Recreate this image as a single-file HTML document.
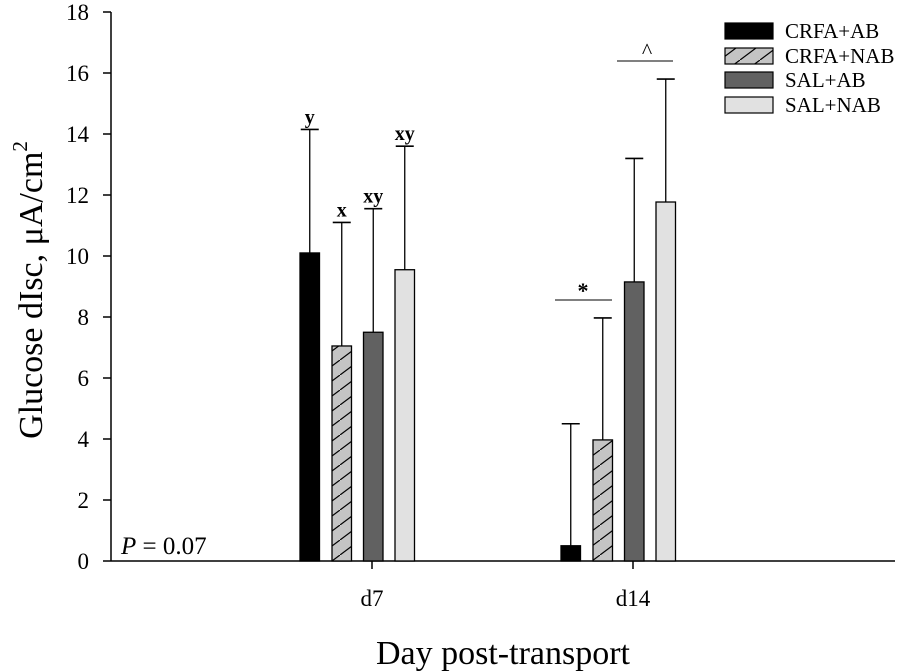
<!DOCTYPE html>
<html><head><meta charset="utf-8"><style>
body{margin:0;background:#fff}
svg{display:block;font-family:"Liberation Serif",serif}
</style></head><body>
<svg id="chart" width="901" height="672" viewBox="0 0 901 672">
<defs>
<pattern id="hatch" patternUnits="userSpaceOnUse" width="20" height="15">
<rect width="20" height="15" fill="#c4c4c4"/>
<path d="M-5,18.75 L25,-3.75" stroke="#000" stroke-width="1.2"/>
</pattern>
</defs>
<g id="plot"></g>
</svg>
<script>
const categories = ["d7", "d14"];
const seriesNames = ["CRFA+AB", "CRFA+NAB", "SAL+AB", "SAL+NAB"];
const crfaAB = [10.1, 0.5];
const crfaNAB = [7.05, 3.97];
const salAB = [7.5, 9.15];
const salNAB = [9.55, 11.77];
const errCrfaAB = [14.15, 4.5];
const errCrfaNAB = [11.1, 7.97];
const errSalAB = [11.55, 13.2];
const errSalNAB = [13.6, 15.8];
const d7Letters = ["y", "x", "xy", "xy"];
const yTicks = [0, 2, 4, 6, 8, 10, 12, 14, 16, 18];

const NS = "http://www.w3.org/2000/svg";
const g = document.getElementById("plot");
const X0 = 111, X1 = 895, Y0 = 561, Y18 = 12;
const yScale = v => Y0 - (v / 18) * (Y0 - Y18);
const catCenter = [372, 633];
const barOffsets = [-72, -40, -8.5, 23];
const barW = 19.5;
const fills = ["#000", "url(#hatch)", "#616161", "#e1e1e1"];
const series = [crfaAB, crfaNAB, salAB, salNAB];
const errs = [errCrfaAB, errCrfaNAB, errSalAB, errSalNAB];

function el(tag, attrs, text) {
  const e = document.createElementNS(NS, tag);
  for (const k in attrs) e.setAttribute(k, attrs[k]);
  if (text !== undefined) e.textContent = text;
  g.appendChild(e);
  return e;
}

let a = el("line", {x1: X0, y1: Y0, x2: X0, y2: Y18, stroke: "#000", "stroke-width": 1.5});


a = el("line", {x1: X0, y1: Y0, x2: X1, y2: Y0, stroke: "#000", "stroke-width": 1.5});



yTicks.forEach(t => {
  const y = yScale(t);
  const tk = el("line", {x1: X0 - 8, y1: y, x2: X0, y2: y, stroke: "#000", "stroke-width": 1.5});
  
  
  const lb = el("text", {x: X0 - 22, y: y + 8, "text-anchor": "end", "font-size": 23}, String(t));
  
  
});

categories.forEach((c, i) => {
  const tk = el("line", {x1: catCenter[i], y1: Y0, x2: catCenter[i], y2: Y0 + 8, stroke: "#000", "stroke-width": 1.5});
  
  
  const lb = el("text", {x: catCenter[i], y: 606, "text-anchor": "middle", "font-size": 23}, c);
  
  
});

series.forEach((vals, s) => {
  vals.forEach((v, i) => {
    const x = catCenter[i] + barOffsets[s];
    const cx = x + barW / 2;
    const ey = yScale(errs[s][i]);
    const el1 = el("line", {x1: cx, y1: yScale(v), x2: cx, y2: ey, stroke: "#000", "stroke-width": 1.3});
    
    
    const el2 = el("line", {x1: cx - 9, y1: ey, x2: cx + 9, y2: ey, stroke: "#000", "stroke-width": 1.6});
    
    
    const r = el("rect", {x: x, y: yScale(v), width: barW, height: Y0 - yScale(v), fill: fills[s], stroke: "#000", "stroke-width": 1.3});
    
    
    if (i === 0) {
      const t = el("text", {x: cx, y: ey - 6, "text-anchor": "middle", "font-size": 20, "font-weight": "bold"}, d7Letters[s]);
      
      
    }
  });
});

let sl = el("line", {x1: 555, y1: 300, x2: 612, y2: 300, stroke: "#000", "stroke-width": 1});


sl = el("text", {x: 583, y: 298, "text-anchor": "middle", "font-size": 22, "font-weight": "bold"}, "*");


sl = el("line", {x1: 617, y1: 61, x2: 673, y2: 61, stroke: "#000", "stroke-width": 1});


sl = el("text", {x: 647, y: 58, "text-anchor": "middle", "font-size": 22}, "^");



const legY = [31, 56, 80, 105];
seriesNames.forEach((n, s) => {
  const r = el("rect", {x: 725, y: legY[s] - 8, width: 48, height: 16, fill: fills[s], stroke: "#000", "stroke-width": 1.2});
  
  
  const t = el("text", {x: 785, y: legY[s] + 7, "font-size": 21}, n);
  
  
});

let t = el("text", {x: 121, y: 554, "font-size": 25});
t.innerHTML = '<tspan font-style="italic">P</tspan> = 0.07';


t = el("text", {x: 503, y: 664, "text-anchor": "middle", "font-size": 34}, "Day post-transport");


t = el("text", {transform: "translate(42,290) rotate(-90)", "text-anchor": "middle", "font-size": 34});
t.innerHTML = 'Glucose dIsc, μA/cm<tspan font-size="21" dy="-15">2</tspan>';


</script>
</body></html>
